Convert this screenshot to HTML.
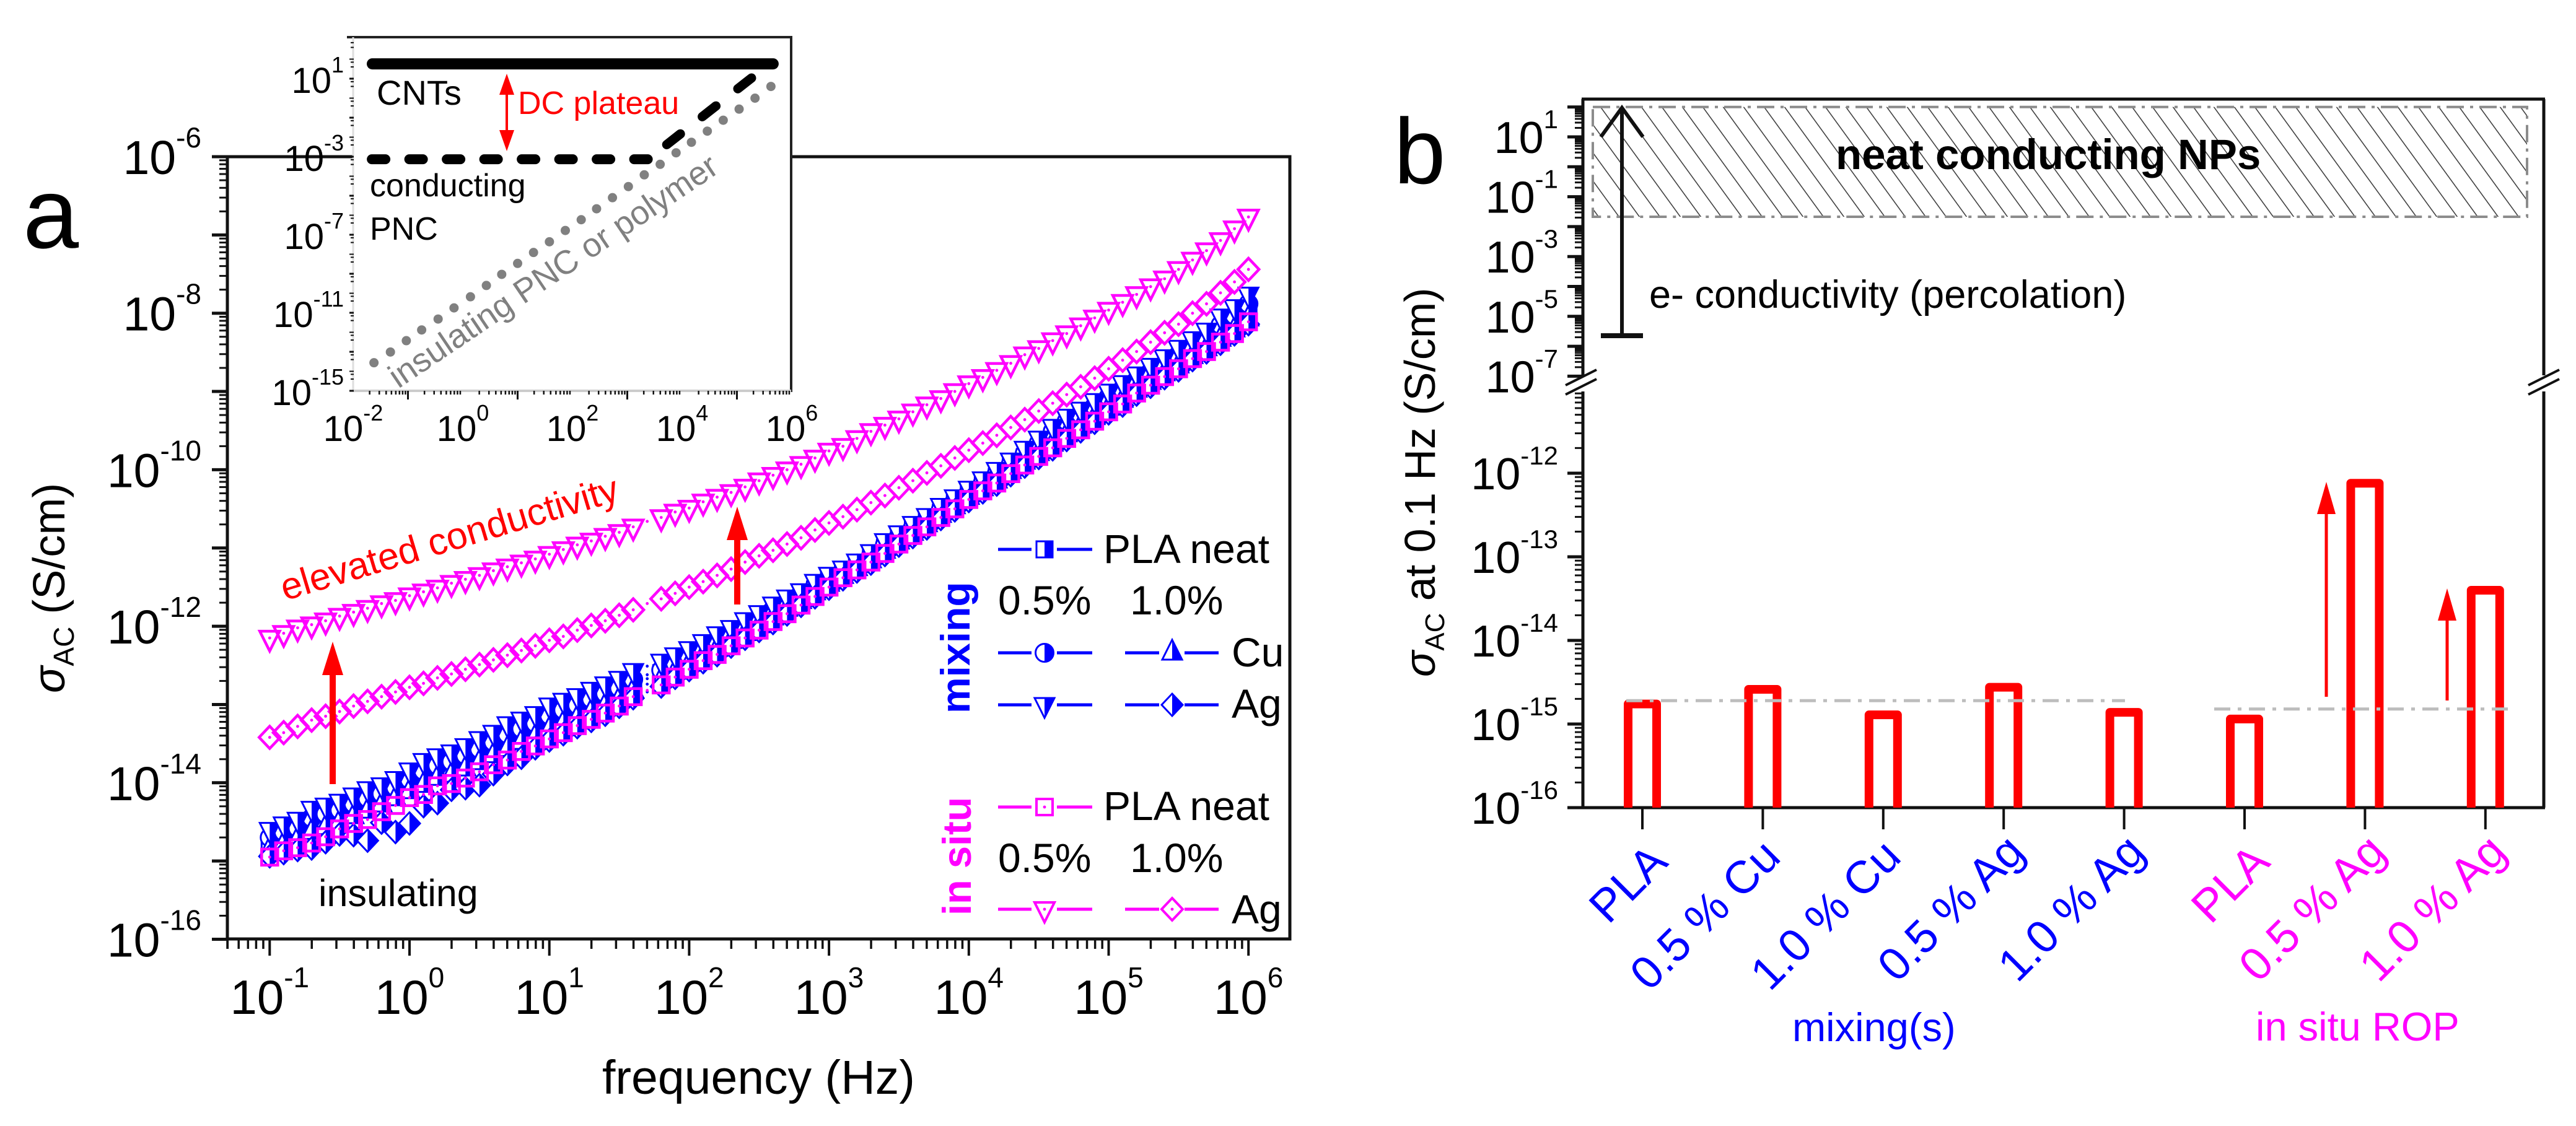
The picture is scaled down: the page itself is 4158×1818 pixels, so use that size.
<!DOCTYPE html>
<html lang="en">
<head>
<meta charset="utf-8">
<title>AC conductivity of PLA nanocomposites</title>
<style>
html,body{margin:0;padding:0;background:#fff;width:4158px;height:1818px;overflow:hidden}
svg{display:block;font-family:"Liberation Sans",sans-serif}
</style>
</head>
<body>
<svg id="figure" xmlns="http://www.w3.org/2000/svg" width="4158" height="1818" viewBox="0 0 4158 1818">
<defs>
<pattern id="hatch" patternUnits="userSpaceOnUse" width="33" height="33" patternTransform="skewX(36)">
<line x1="16" y1="0" x2="16" y2="33" stroke="#444" stroke-width="2"/>
</pattern>
</defs>
<rect x="0" y="0" width="4158" height="1818" fill="#fff"/>

<g id="panelA">
<text x="37" y="400" font-size="162">a</text>
<rect x="367" y="253" width="1715" height="1263" fill="none" stroke="#111" stroke-width="5"/>
<g id="axesA"></g>
<g id="seriesA"></g>
<text transform="translate(104,1119) rotate(-90)" font-size="72"><tspan font-style="italic">σ</tspan><tspan font-size="46" dy="15">AC</tspan><tspan dy="-15"> (S/cm)</tspan></text>
<text x="972" y="1766" font-size="77">frequency (Hz)</text>
<text transform="translate(460,970) rotate(-16.7)" font-size="61" fill="#ff0000">elevated conductivity</text>
<text x="514" y="1463" font-size="61">insulating</text>
<g fill="#ff0000">
<rect x="532" y="1080" width="10" height="186"/>
<polygon points="537,1036 554,1090 520,1090"/>
</g>
<g fill="#ff0000">
<rect x="1185" y="860" width="10" height="116"/>
<polygon points="1190,818 1207,872 1173,872"/>
</g>
<text transform="translate(1565,1152) rotate(-90)" font-size="66" font-weight="bold" fill="#0000ff">mixing</text>
<text transform="translate(1567,1478) rotate(-90)" font-size="65" font-weight="bold" fill="#ff00ff">in situ</text>
<g font-size="66">
<text x="1781" y="909">PLA neat</text>
<text x="1611" y="992">0.5%</text>
<text x="1824" y="992">1.0%</text>
<text x="1988" y="1076">Cu</text>
<text x="1988" y="1159">Ag</text>
<text x="1781" y="1324">PLA neat</text>
<text x="1611" y="1408">0.5%</text>
<text x="1824" y="1408">1.0%</text>
<text x="1988" y="1491">Ag</text>
</g>
<g id="legendA"></g>
</g>

<g id="inset">
<rect x="570" y="60" width="707" height="571" fill="#fff"/>
<line x1="560" y1="60" x2="1279" y2="60" stroke="#222" stroke-width="4"/>
<line x1="1277" y1="60" x2="1277" y2="633" stroke="#222" stroke-width="4"/>
<line x1="570" y1="631" x2="1277" y2="631" stroke="#ccc" stroke-width="4"/>
<line x1="570" y1="60" x2="570" y2="631" stroke="#ddd" stroke-width="3"/>
<g id="axesInset"></g>
<g id="seriesInset"></g>
<text x="608" y="169" font-size="56">CNTs</text>
<text x="597" y="317" font-size="52">conducting</text>
<text x="597" y="387" font-size="52">PNC</text>
<text x="836" y="184" font-size="52" fill="#ff0000">DC plateau</text>
<g fill="#ff0000">
<rect x="816" y="150" width="4" height="64"/>
<polygon points="818,119 830,153 806,153"/>
<polygon points="818,244 830,210 806,210"/>
</g>
<text transform="translate(643,628) rotate(-34)" font-size="54" fill="#808080">insulating PNC or polymer</text>
</g>

<g id="panelB">
<text x="2250" y="296" font-size="150">b</text>
<g stroke="#111" stroke-width="5" fill="none">
<line x1="2553" y1="160" x2="4108" y2="160"/>
<line x1="2530" y1="1304" x2="4108" y2="1304"/>
<line x1="2555" y1="160" x2="2555" y2="606"/>
<line x1="2555" y1="632" x2="2555" y2="1304"/>
<line x1="4106" y1="160" x2="4106" y2="606"/>
<line x1="4106" y1="632" x2="4106" y2="1304"/>
</g>
<g stroke="#111" stroke-width="4">
<line x1="2527" y1="622" x2="2577" y2="597"/>
<line x1="2527" y1="637" x2="2577" y2="612"/>
</g>
<g stroke="#111" stroke-width="4">
<line x1="4081" y1="622" x2="4131" y2="597"/>
<line x1="4081" y1="637" x2="4131" y2="612"/>
</g>
<g id="axesB"></g>
<rect id="nanoBand" fill="url(#hatch)" stroke="#8c8c8c" stroke-width="4" stroke-dasharray="28 10 5 10"/>
<text x="2963" y="273" font-size="69" font-weight="bold">neat conducting NPs</text>
<g stroke="#111" fill="none">
<line x1="2618" y1="174" x2="2618" y2="542" stroke-width="6"/>
<polyline points="2584,221 2618,174 2652,221" stroke-width="6"/>
<line x1="2584" y1="542" x2="2652" y2="542" stroke-width="8"/>
</g>
<text x="2662" y="497" font-size="63">e- conductivity (percolation)</text>
<g id="barsB"></g>
<g fill="#ff0000">
<rect x="3752.5" y="820" width="5" height="305"/>
<polygon points="3755,778 3770,830 3740,830"/>
</g>
<g fill="#ff0000">
<rect x="3947.5" y="990" width="5" height="141"/>
<polygon points="3950,950 3965,1002 3935,1002"/>
</g>
<text transform="translate(2316,1093) rotate(-90)" font-size="70"><tspan font-style="italic">σ</tspan><tspan font-size="44" dy="15">AC</tspan><tspan dy="-15"> at 0.1 Hz (S/cm)</tspan></text>
<text x="2893" y="1681" font-size="65" fill="#0000ff">mixing(s)</text>
<text x="3641" y="1680" font-size="65" fill="#ff00ff">in situ ROP</text>
</g>
</svg>

<script>
// ---------- Panel a: log10(frequency / Hz) of every measured point ----------
const frequencyLog = [-1.0,-0.9,-0.8,-0.7,-0.6,-0.5,-0.4,-0.3,-0.2,-0.1,0.0,0.1,0.2,0.3,0.4,0.5,0.6,0.7,0.8,0.9,1.0,1.1,1.2,1.3,1.4,1.5,1.6,1.7,1.8,1.9,2.0,2.1,2.2,2.3,2.4,2.5,2.6,2.7,2.8,2.9,3.0,3.1,3.2,3.3,3.4,3.5,3.6,3.7,3.8,3.9,4.0,4.1,4.2,4.3,4.4,4.5,4.6,4.7,4.8,4.9,5.0,5.1,5.2,5.3,5.4,5.5,5.6,5.7,5.8,5.9,6.0];
// Panel a: log10(sigma_AC / (S/cm)) per series
const mixingPlaNeat = [-14.76,-14.69,-14.64,-14.53,-14.48,-14.42,-14.34,-14.27,-14.20,-14.12,-14.02,-13.93,-13.85,-13.80,-13.73,-13.65,-13.56,-13.47,-13.39,-13.32,-13.22,-13.15,-13.08,-13.00,-12.92,-12.85,-12.74,-12.67,-12.60,-12.51,-12.42,-12.33,-12.24,-12.14,-12.05,-11.95,-11.84,-11.74,-11.64,-11.53,-11.42,-11.33,-11.24,-11.13,-11.00,-10.89,-10.77,-10.67,-10.55,-10.43,-10.32,-10.20,-10.09,-9.97,-9.84,-9.72,-9.59,-9.47,-9.36,-9.26,-9.14,-9.03,-8.92,-8.81,-8.71,-8.60,-8.49,-8.38,-8.24,-8.12,-7.96];
const mixingCu05 = [-14.70,-14.63,-14.58,-14.45,-14.40,-14.35,-14.27,-14.20,-14.14,-14.06,-13.96,-13.85,-13.78,-13.73,-13.65,-13.57,-13.48,-13.38,-13.31,-13.24,-13.14,-13.07,-13.01,-12.93,-12.86,-12.79,-12.68,-12.62,-12.56,-12.47,-12.38,-12.28,-12.18,-12.10,-12.00,-11.90,-11.79,-11.69,-11.61,-11.49,-11.39,-11.31,-11.22,-11.10,-10.96,-10.85,-10.74,-10.64,-10.51,-10.40,-10.29,-10.17,-10.05,-9.93,-9.79,-9.66,-9.51,-9.38,-9.29,-9.19,-9.07,-8.97,-8.86,-8.75,-8.65,-8.53,-8.42,-8.32,-8.15,-8.03,-7.88];
const mixingCu10 = [-14.85,-14.78,-14.72,-14.63,-14.57,-14.50,-14.43,-14.36,-14.28,-14.20,-14.11,-14.03,-13.94,-13.90,-13.82,-13.74,-13.65,-13.57,-13.48,-13.41,-13.32,-13.24,-13.17,-13.09,-13.01,-12.93,-12.82,-12.74,-12.68,-12.58,-12.48,-12.38,-12.29,-12.19,-12.09,-11.99,-11.89,-11.78,-11.68,-11.57,-11.46,-11.36,-11.26,-11.16,-11.04,-10.92,-10.81,-10.70,-10.58,-10.47,-10.35,-10.24,-10.14,-10.02,-9.90,-9.79,-9.67,-9.55,-9.44,-9.33,-9.21,-9.11,-8.98,-8.88,-8.77,-8.67,-8.55,-8.45,-8.33,-8.21,-8.07];
const mixingAg05 = [-14.60,-14.53,-14.47,-14.33,-14.29,-14.24,-14.16,-14.08,-14.03,-13.95,-13.84,-13.72,-13.66,-13.61,-13.53,-13.44,-13.36,-13.25,-13.19,-13.12,-13.01,-12.95,-12.89,-12.81,-12.74,-12.67,-12.57,-12.51,-12.45,-12.37,-12.29,-12.20,-12.10,-12.02,-11.92,-11.83,-11.72,-11.63,-11.55,-11.43,-11.34,-11.26,-11.17,-11.05,-10.91,-10.81,-10.69,-10.59,-10.46,-10.35,-10.24,-10.12,-10.00,-9.88,-9.73,-9.60,-9.45,-9.32,-9.23,-9.12,-9.00,-8.89,-8.78,-8.67,-8.56,-8.44,-8.33,-8.22,-8.04,-7.92,-7.76];
const mixingAg10 = [-14.94,-14.90,-14.86,-14.84,-14.76,-14.66,-14.67,-14.74,-14.51,-14.63,-14.52,-14.30,-14.26,-14.09,-14.07,-14.03,-13.89,-13.76,-13.68,-13.56,-13.46,-13.38,-13.29,-13.21,-13.13,-13.03,-12.92,-12.84,-12.77,-12.66,-12.56,-12.46,-12.37,-12.26,-12.16,-12.06,-11.96,-11.85,-11.74,-11.63,-11.52,-11.40,-11.30,-11.20,-11.09,-10.97,-10.86,-10.75,-10.63,-10.52,-10.40,-10.29,-10.19,-10.07,-9.96,-9.85,-9.74,-9.62,-9.51,-9.40,-9.28,-9.18,-9.04,-8.94,-8.83,-8.73,-8.60,-8.50,-8.39,-8.27,-8.14];
const inSituPlaNeat = [-14.95,-14.87,-14.83,-14.77,-14.69,-14.59,-14.52,-14.47,-14.37,-14.29,-14.19,-14.15,-14.04,-14.01,-13.94,-13.86,-13.77,-13.71,-13.60,-13.53,-13.44,-13.36,-13.27,-13.19,-13.11,-13.02,-12.90,-12.82,-12.75,-12.65,-12.55,-12.44,-12.36,-12.25,-12.15,-12.05,-11.94,-11.84,-11.73,-11.62,-11.50,-11.38,-11.28,-11.18,-11.07,-10.95,-10.84,-10.73,-10.61,-10.50,-10.38,-10.27,-10.17,-10.05,-9.94,-9.83,-9.72,-9.60,-9.49,-9.38,-9.26,-9.16,-9.02,-8.92,-8.81,-8.71,-8.58,-8.49,-8.37,-8.26,-8.11];
const inSituAg05 = [-12.15,-12.09,-12.02,-11.98,-11.93,-11.87,-11.82,-11.77,-11.71,-11.67,-11.61,-11.56,-11.51,-11.45,-11.40,-11.35,-11.29,-11.24,-11.19,-11.14,-11.08,-11.02,-10.96,-10.91,-10.85,-10.80,-10.73,-10.66,-10.61,-10.54,-10.49,-10.41,-10.35,-10.29,-10.22,-10.14,-10.07,-10.00,-9.93,-9.85,-9.76,-9.70,-9.60,-9.51,-9.43,-9.35,-9.26,-9.17,-9.09,-9.00,-8.90,-8.82,-8.73,-8.64,-8.53,-8.45,-8.35,-8.26,-8.16,-8.06,-7.96,-7.86,-7.76,-7.66,-7.56,-7.44,-7.32,-7.20,-7.07,-6.92,-6.77];
const inSituAg10 = [-13.42,-13.36,-13.28,-13.20,-13.15,-13.09,-13.02,-12.96,-12.90,-12.84,-12.78,-12.73,-12.66,-12.61,-12.55,-12.49,-12.43,-12.37,-12.31,-12.25,-12.18,-12.13,-12.05,-11.99,-11.93,-11.86,-11.79,-11.71,-11.65,-11.58,-11.50,-11.43,-11.35,-11.27,-11.18,-11.10,-11.03,-10.95,-10.87,-10.77,-10.68,-10.60,-10.51,-10.42,-10.33,-10.23,-10.14,-10.04,-9.95,-9.85,-9.75,-9.66,-9.56,-9.46,-9.36,-9.25,-9.15,-9.04,-8.94,-8.83,-8.71,-8.60,-8.49,-8.37,-8.25,-8.14,-8.00,-7.88,-7.74,-7.60,-7.44];
// Point with no drawn symbol (only its centre dot shows in the reference)
const sweepGapFrequencyLog = [1.7];
// Panel a ticks
const xDecadesA = [-2,-1,0,1,2,3,4,5,6];
const xLabelExponentsA = [-1,0,1,2,3,4,5,6];
const yDecadesA = [-16,-15,-14,-13,-12,-11,-10,-9,-8,-7,-6];
const yLabelExponentsA = [-16,-14,-12,-10,-8,-6];
const minorMultipliers = [2,3,4,5,6,7,8,9];

// ---------- Inset ----------
const cntFrequency = [-1.65,5.66];
const cntSigma = [1.76,1.76];
const plateauFrequency = [-1.66,3.38];
const plateauSigma = [-3.13,-3.13];
const riseFrequency = [3.72,5.40];
const riseSigma = [-2.38,1.33];
const insulatingFrequency = [-1.62,-1.32,-1.03,-0.75,-0.45,-0.16,0.14,0.43,0.71,1.00,1.29,1.58,1.87,2.16,2.44,2.73,3.02,3.31,3.60,3.89,4.17,4.46,4.75,5.04,5.33,5.62];
const insulatingSigma = [-13.56,-13.01,-12.43,-11.88,-11.32,-10.75,-10.18,-9.60,-9.03,-8.47,-7.91,-7.36,-6.78,-6.23,-5.67,-5.10,-4.53,-3.93,-3.39,-2.80,-2.26,-1.69,-1.13,-0.56,0.00,0.60];
const xLabelExponentsInset = [-2,0,2,4,6];
const yLabelExponentsInset = [1,-3,-7,-11,-15];

// ---------- Panel b ----------
const barCategories = ['PLA','0.5 % Cu','1.0 % Cu','0.5 % Ag','1.0 % Ag','PLA','0.5 % Ag','1.0 % Ag'];
const barGroups = ['mixing','mixing','mixing','mixing','mixing','in-situ','in-situ','in-situ'];
const barSigma = [-14.76,-14.585,-14.89,-14.56,-14.86,-14.94,-12.12,-13.40];
const mixingReferenceSigma = -14.72;
const inSituReferenceSigma = -14.82;
const nanoBandSigma = [2.0,-1.67];
const upperDecadesB = [-7,-6,-5,-4,-3,-2,-1,0,1];
const upperLabelExponentsB = [1,-1,-3,-5,-7];
const lowerDecadesB = [-16,-15,-14,-13,-12];
const lowerLabelExponentsB = [-12,-13,-14,-15,-16];

// ---------- Axis functions ----------
const xA = v => 661 + 225.7 * v;
const yA = v => 253 + (-6 - v) * 126.35;
const xI = v => 747 + 88.5 * v;
const yI = v => 127 + (1 - v) * 31.5;
const xB = i => 2651 + 194.4 * i;
const yBU = v => 221 + (1 - v) * 48.3;
const yBL = v => 1304 + (-16 - v) * 135;

const NS = 'http://www.w3.org/2000/svg';
const BLUE = '#0000ff', MAGENTA = '#ff00ff', RED = '#ff0000';
function mk(parent, tag, attrs) {
  const el = document.createElementNS(NS, tag);
  for (const k in attrs) el.setAttribute(k, attrs[k]);
  parent.appendChild(el);
  return el;
}
function pts(a) { return a.map(p => p[0].toFixed(1) + ',' + p[1].toFixed(1)).join(' '); }

function tick(parent, x1, y1, x2, y2, w, kind) {
  const el = mk(parent, 'line', {x1, y1, x2, y2, stroke: '#111', 'stroke-width': w});
  
  
}
function powerLabel(parent, x, y, exp, size, supSize, rise, anchor, kind) {
  const t = mk(parent, 'text', {x, y, 'font-size': size, 'text-anchor': anchor});
  
  
  const a = mk(t, 'tspan', {});
  a.textContent = '10';
  const b = mk(t, 'tspan', {'font-size': supSize, dy: -rise});
  b.textContent = String(exp);
}

// ---------- Markers ----------
function marker(parent, x, y, shape, color, half, sw, dotOnly, name) {
  const g = mk(parent, 'g', {});
  
  
  const fill = half ? '#fff' : 'none';
  if (!dotOnly) {
    const st = {fill, stroke: color, 'stroke-width': sw, 'stroke-linejoin': 'miter'};
    if (shape === 'square') {
      mk(g, 'rect', Object.assign({x: x - 13, y: y - 13, width: 26, height: 26}, st));
      if (half) mk(g, 'rect', {x, y: y - 13, width: 13, height: 26, fill: color});
    } else if (shape === 'circle') {
      mk(g, 'circle', Object.assign({cx: x, cy: y, r: 14.5}, st));
      if (half) mk(g, 'path', {d: 'M' + x + ' ' + (y - 14.5) + 'A14.5 14.5 0 0 1 ' + x + ' ' + (y + 14.5) + 'Z', fill: color});
    } else if (shape === 'up') {
      mk(g, 'polygon', Object.assign({points: pts([[x, y - 21], [x + 16, y + 11], [x - 16, y + 11]])}, st));
      if (half) mk(g, 'polygon', {points: pts([[x, y - 21], [x + 16, y + 11], [x, y + 11]]), fill: color});
    } else if (shape === 'down') {
      mk(g, 'polygon', Object.assign({points: pts([[x - 16, y - 11], [x + 16, y - 11], [x, y + 21]])}, st));
      if (half) mk(g, 'polygon', {points: pts([[x, y - 11], [x + 16, y - 11], [x, y + 21]]), fill: color});
    } else {
      mk(g, 'polygon', Object.assign({points: pts([[x, y - 18], [x + 17, y], [x, y + 18], [x - 17, y]])}, st));
      if (half) mk(g, 'polygon', {points: pts([[x, y - 18], [x + 17, y], [x, y + 18]]), fill: color});
    }
  }
  if (!half || dotOnly) mk(g, 'circle', {cx: x, cy: y, r: 2.4, fill: color});
}
function drawSeries(values, shape, color, half, sw, name) {
  const group = mk(document.getElementById('seriesA'), 'g', {});
  
  
  values.forEach((v, i) => {
    const f = frequencyLog[i];
    marker(group, xA(f), yA(v), shape, color, half, sw, sweepGapFrequencyLog.includes(f), name + '-point');
  });
}

// ---------- Panel a axes ----------
(function () {
  const g = document.getElementById('axesA');
  const xMin = 367, xMax = 2082, yBot = 1516;
  xDecadesA.forEach(d => {
    minorMultipliers.forEach(m => {
      const x = xA(d + Math.log10(m));
      if (x >= xMin - 1 && x <= xMax + 1) tick(g, x, yBot, x, yBot + 16, 3.5, 'x-minor-tick-a');
    });
    const x = xA(d);
    if (x >= xMin && x <= xMax) tick(g, x, yBot, x, yBot + 27, 4, 'x-major-tick-a');
  });
  tick(g, xMin, yBot, xMin, yBot + 16, 3.5, 'x-minor-tick-a');
  xLabelExponentsA.forEach(e => powerLabel(g, xA(e), 1637, e, 78, 46, 43, 'middle', 'x-tick-label-a'));
  yDecadesA.forEach(d => {
    tick(g, xMin - 25, yA(d), xMin, yA(d), 5, 'y-major-tick-a');
    if (d < -6) minorMultipliers.forEach(m => {
      const y = yA(d + Math.log10(m));
      tick(g, xMin - 13, y, xMin, y, 3, 'y-minor-tick-a');
    });
  });
  yLabelExponentsA.forEach(e => powerLabel(g, 325, yA(e) + 28, e, 77, 46, 43, 'end', 'y-tick-label-a'));
})();

// ---------- Panel a data ----------
drawSeries(mixingPlaNeat, 'square', BLUE, true, 3, 'series-mixing-pla-neat');
drawSeries(mixingCu05, 'circle', BLUE, true, 3, 'series-mixing-cu-0-5');
drawSeries(mixingCu10, 'up', BLUE, true, 3, 'series-mixing-cu-1-0');
drawSeries(mixingAg05, 'down', BLUE, true, 3, 'series-mixing-ag-0-5');
drawSeries(mixingAg10, 'diamond', BLUE, true, 3, 'series-mixing-ag-1-0');
drawSeries(inSituPlaNeat, 'square', MAGENTA, false, 4.5, 'series-in-situ-pla-neat');
drawSeries(inSituAg05, 'down', MAGENTA, false, 4.5, 'series-in-situ-ag-0-5');
drawSeries(inSituAg10, 'diamond', MAGENTA, false, 4.5, 'series-in-situ-ag-1-0');

// ---------- Panel a legend ----------
function legendEntry(cx, x1, x2, y, shape, color, half, sw, name) {
  const g = mk(document.getElementById('legendA'), 'g', {});
  
  
  mk(g, 'line', {x1, y1: y, x2: cx - 21, y2: y, stroke: color, 'stroke-width': 5});
  mk(g, 'line', {x1: cx + 20, y1: y, x2, y2: y, stroke: color, 'stroke-width': 5});
  marker(g, cx, y, shape, color, half, sw, false, name + '-symbol');
}
legendEntry(1686, 1611, 1763, 887, 'square', BLUE, true, 3, 'legend-entry-mixing-pla-neat');
legendEntry(1686, 1611, 1763, 1054, 'circle', BLUE, true, 3, 'legend-entry-mixing-cu-0-5');
legendEntry(1892, 1816, 1967, 1054, 'up', BLUE, true, 3, 'legend-entry-mixing-cu-1-0');
legendEntry(1686, 1611, 1763, 1138, 'down', BLUE, true, 3, 'legend-entry-mixing-ag-0-5');
legendEntry(1892, 1816, 1967, 1138, 'diamond', BLUE, true, 3, 'legend-entry-mixing-ag-1-0');
legendEntry(1686, 1611, 1763, 1303, 'square', MAGENTA, false, 4, 'legend-entry-in-situ-pla-neat');
legendEntry(1686, 1611, 1763, 1468, 'down', MAGENTA, false, 4, 'legend-entry-in-situ-ag-0-5');
legendEntry(1892, 1816, 1967, 1468, 'diamond', MAGENTA, false, 4, 'legend-entry-in-situ-ag-1-0');

// ---------- Inset ----------
(function () {
  const g = document.getElementById('axesInset');
  for (let d = -2; d < 6; d++) {
    minorMultipliers.forEach(m => {
      const x = xI(d + Math.log10(m));
      tick(g, x, 631, x, 637, 2.5, 'inset-x-minor-tick');
    });
    if (d % 2 !== 0) tick(g, xI(d), 631, xI(d), 645, 3, 'inset-x-major-tick');
  }
  for (let d = -15; d <= 2; d++) {
    const y = yI(d);
    if (y < 60) continue;
    tick(g, 564, y, 571, y, d % 2 ? 3 : 2, 'inset-y-tick');
    [4, 7].forEach(m => {
      const ym = yI(d + Math.log10(m));
      if (ym > 62) tick(g, 566, ym, 571, ym, 2, 'inset-y-minor-tick');
    });
  }
  xLabelExponentsInset.forEach(e => powerLabel(g, xI(e), 712, e, 58, 36, 33, 'middle', 'inset-x-tick-label'));
  yLabelExponentsInset.forEach(e => powerLabel(g, 555, yI(e) + 23, e, 58, 36, 33, 'end', 'inset-y-tick-label'));

  const s = document.getElementById('seriesInset');
  const cnt = mk(s, 'polyline', {points: pts(cntFrequency.map((f, i) => [xI(f), yI(cntSigma[i])])), fill: 'none', stroke: '#000', 'stroke-width': 18, 'stroke-linecap': 'round'});
  
  
  const plateau = mk(s, 'polyline', {points: pts(plateauFrequency.map((f, i) => [xI(f), yI(plateauSigma[i])])), fill: 'none', stroke: '#000', 'stroke-width': 16, 'stroke-linecap': 'round', 'stroke-dasharray': '22 38.5'});
  
  
  const rise = mk(s, 'polyline', {points: pts(riseFrequency.map((f, i) => [xI(f), yI(riseSigma[i])])), fill: 'none', stroke: '#000', 'stroke-width': 15, 'stroke-linecap': 'round', 'stroke-dasharray': '28 45'});
  
  
  insulatingFrequency.forEach((f, i) => {
    const dot = mk(s, 'circle', {cx: xI(f), cy: yI(insulatingSigma[i]), r: 7.5, fill: '#808080'});
    
    
  });
})();

// ---------- Panel b ----------
(function () {
  const g = document.getElementById('axesB');
  const L = 2555;
  upperDecadesB.forEach(d => {
    tick(g, L - 25, yBU(d), L, yBU(d), 5, 'y-major-tick-b');
    if (d < 1) minorMultipliers.forEach(m => {
      const y = yBU(d + Math.log10(m));
      tick(g, L - 13, y, L, y, 3, 'y-minor-tick-b');
    });
  });
  tick(g, L - 25, yBU(2), L, yBU(2), 5, 'y-major-tick-b');
  minorMultipliers.forEach(m => {
    const y = yBU(1 + Math.log10(m));
    tick(g, L - 13, y, L, y, 3, 'y-minor-tick-b');
  });
  lowerDecadesB.forEach(d => {
    tick(g, L - 25, yBL(d), L, yBL(d), 5, 'y-major-tick-b');
    minorMultipliers.forEach(m => {
      const y = yBL(d + Math.log10(m));
      tick(g, L - 13, y, L, y, 3, 'y-minor-tick-b');
    });
  });
  upperLabelExponentsB.forEach(e => powerLabel(g, 2515, yBU(e) + 26, e, 72, 42, 40, 'end', 'y-tick-label-b'));
  lowerLabelExponentsB.forEach(e => powerLabel(g, 2515, yBL(e) + 26, e, 72, 42, 40, 'end', 'y-tick-label-b'));

  const band = document.getElementById('nanoBand');
  band.setAttribute('x', 2571);
  band.setAttribute('width', 1508);
  band.setAttribute('y', yBU(nanoBandSigma[0]));
  band.setAttribute('height', yBU(nanoBandSigma[1]) - yBU(nanoBandSigma[0]));

  const bars = document.getElementById('barsB');
  barSigma.forEach((v, i) => {
    const x = xB(i), top = yBL(v);
    const bar = mk(bars, 'path', {d: 'M' + (x - 23) + ' 1304V' + top + 'H' + (x + 23) + 'V1304', fill: 'none', stroke: RED, 'stroke-width': 14, 'stroke-linejoin': 'round'});
    
    
    tick(g, x, 1304, x, 1339, 4, 'x-tick-b');
    const isAg = barCategories[i].endsWith('Ag');
    const off = barCategories[i] === 'PLA' ? [44, 1395] : isAg ? [37, 1379] : [32, 1387];
    const t = mk(g, 'text', {transform: 'translate(' + (x + off[0]) + ',' + off[1] + ') rotate(-45)', 'text-anchor': 'end', 'font-size': 74, fill: barGroups[i] === 'mixing' ? BLUE : MAGENTA});
    
    
    t.textContent = barCategories[i];
  });
  const refStyle = {fill: 'none', stroke: '#bdbdbd', 'stroke-width': 5, 'stroke-dasharray': '26 12 6 12'};
  const r1 = mk(bars, 'line', Object.assign({x1: 2625, x2: 3430, y1: yBL(mixingReferenceSigma), y2: yBL(mixingReferenceSigma)}, refStyle));
  
  
  const r2 = mk(bars, 'line', Object.assign({x1: 3574, x2: 4059, y1: yBL(inSituReferenceSigma), y2: yBL(inSituReferenceSigma)}, refStyle));
  
  
})();
</script>
</body>
</html>
